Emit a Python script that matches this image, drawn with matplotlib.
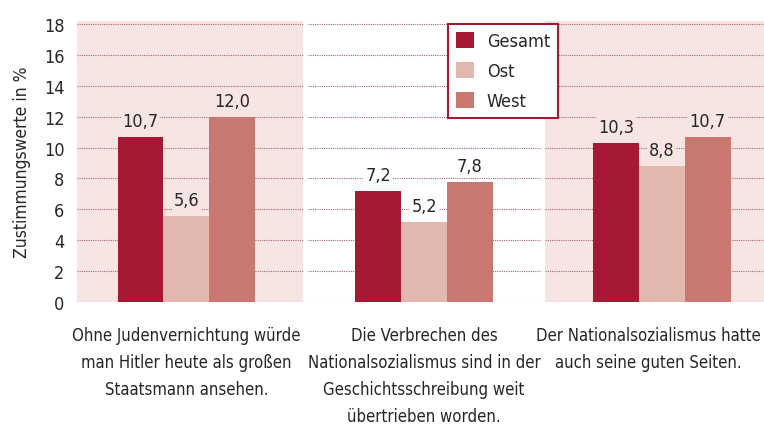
import matplotlib
matplotlib.use('Agg')
import matplotlib.pyplot as plt
from matplotlib import font_manager as fm
from matplotlib.transforms import ScaledTranslation
import numpy as np

# schmale Schrift suchen, sonst Liberation Sans
schrift, breite = 'Liberation Sans', 'normal'
for f in fm.fontManager.ttflist:
    if f.style == 'normal' and f.weight in (400, 'normal', 'regular') and \
            (f.stretch in ('condensed', 'semi-condensed') or 'Narrow' in f.name or 'Condensed' in f.name):
        schrift, breite = f.name, f.stretch
        break
plt.rcParams['font.family'] = [schrift, 'DejaVu Sans']
plt.rcParams['font.stretch'] = breite
schmal = schrift != 'Liberation Sans'

# Daten
kategorien = ['Ohne Judenvernichtung würde\nman Hitler heute als großen\nStaatsmann ansehen.',
              'Die Verbrechen des\nNationalsozialismus sind in der\nGeschichtsschreibung weit\nübertrieben worden.',
              'Der Nationalsozialismus hatte\nauch seine guten Seiten.']
serien = ['Gesamt', 'Ost', 'West']
gesamt = [10.7, 7.2, 10.3]
ost = [5.6, 5.2, 8.8]
west = [12.0, 7.8, 10.7]
yticks = [0, 2, 4, 6, 8, 10, 12, 14, 16, 18]

farben = ['#a51934', '#e2b7b0', '#c87870']
rosa = '#f6e5e2'
gitter = '#a86870'
text = '#262626'
fs = 13 if schmal else 11.5

fig = plt.figure(figsize=(7.64, 4.39), dpi=100)
ax = fig.add_axes([77/764, 136/439, 687/764, 281/439])

ax.set_xlim(-0.46, 2.43)
ax.set_ylim(0, 18.2)

# Hintergrundfelder je Kategorie
felder = [(-0.46, 0.49, rosa), (0.51, 1.49, 'white'), (1.51, 2.43, rosa)]
for x0, x1, c in felder:
    ax.axvspan(x0, x1, color=c, zorder=0, lw=0)
    for y in yticks:
        ax.plot([x0, x1], [y, y], color=gitter, lw=0.8, ls=(0, (1, 1)), zorder=1)

x = np.arange(len(kategorien))
w = 0.193
for i, (name, werte) in enumerate(zip(serien, [gesamt, ost, west])):
    pos = x + (i - 1) * w
    ax.bar(pos, werte, width=w, color=farben[i], label=name, zorder=2)
    for p, v in zip(pos, werte):
        bg = felder[int(round(p))][2]
        ax.annotate(f'{v:.1f}'.replace('.', ','), (p, v), xytext=(0, 5),
                    textcoords='offset points', ha='center', va='bottom',
                    fontsize=fs, color=text, zorder=3,
                    bbox=dict(boxstyle='square,pad=0.1', fc=bg, ec='none'))

ax.set_yticks(yticks)
ax.set_yticklabels([str(t) for t in yticks], fontsize=fs, color=text)
ax.set_xticks(x)
ax.set_xticklabels(kategorien, fontsize=fs - 1, color=text, linespacing=1.65)
ax.tick_params(length=0, axis='y', pad=9)
ax.tick_params(length=0, axis='x', pad=17)
for s in ax.spines.values():
    s.set_visible(False)

# letzte Beschriftung etwas nach links, damit sie nicht abgeschnitten wird
lab = ax.get_xticklabels()[-1]
lab.set_transform(lab.get_transform() + ScaledTranslation(-13/100, 0, fig.dpi_scale_trans))

ax.set_ylabel('Zustimmungswerte in %', fontsize=fs - 0.5, color=text, labelpad=9)

leg = ax.legend(loc='upper left', bbox_to_anchor=(0.54, 0.99), fontsize=fs,
                frameon=True, fancybox=False, framealpha=1, edgecolor='#a51934',
                handlelength=1.0, handleheight=1.0, handletextpad=0.7,
                labelspacing=0.65, borderpad=0.45, borderaxespad=0)
leg.get_frame().set_linewidth(1.5)
for t in leg.get_texts():
    t.set_color(text)

fig.savefig('out.png', dpi=100)
